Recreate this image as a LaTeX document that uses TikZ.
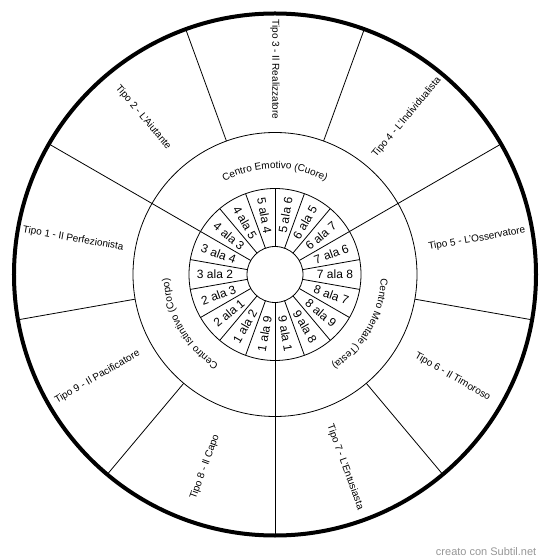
\documentclass[tikz,border=0pt]{standalone}
\usepackage{fontspec}
\setmainfont{Liberation Sans}
\usepackage{tikz}
\usetikzlibrary{decorations.text}
\definecolor{markgray}{RGB}{150, 150, 150}
\newcommand{\centrofont}{\fontsize{10}{12}\selectfont}

\begin{document}
\begin{tikzpicture}[x=1pt, y=1pt, line width=0.8pt]
  \useasboundingbox (-275,-284.5) rectangle (275,274.5);

  % Rings
  \draw[line width=4pt] (0,0) circle[radius=261pt];
  \draw (0,0) circle[radius=142pt];
  \draw (0,0) circle[radius=86pt];
  \draw (0,0) circle[radius=28pt];

  % Dividers: types, centres, wings
  \foreach \a in {30,70,...,350} \draw (\a:142pt) -- (\a:261pt);
  \foreach \a in {30,150,270} \draw (\a:86pt) -- (\a:142pt);
  \foreach \a in {10,30,...,350} \draw (\a:28pt) -- (\a:86pt);

  % Types
  \foreach \lab [count=\i, evaluate=\i as \a using 130-40*\i,
      evaluate=\a as \r using {ifthenelse(\a>-90 && \a<90, \a, \a+180)}] in
      {Tipo 3 - Il Realizzatore, Tipo 4 - L'Individualista, Tipo 5 - L'Osservatore,
       Tipo 6 - Il Timoroso, Tipo 7 - L'Entusiasta, Tipo 8 - Il Capo,
       Tipo 9 - Il Pacificatore, Tipo 1 - Il Perfezionista, Tipo 2 - L'Aiutante}
    \node[font=\fontsize{10}{12}\selectfont, rotate=\r] (tipo\i) at (\a:205pt) {\lab};

  % Wings
  \foreach \lab [count=\i, evaluate=\i as \a using 100-20*\i,
      evaluate=\a as \r using {ifthenelse(\a>-90, \a, \a+180)}] in
      {5 ala 6, 6 ala 5, 6 ala 7, 7 ala 6, 7 ala 8, 8 ala 7, 8 ala 9, 9 ala 8, 9 ala 1,
       1 ala 9, 1 ala 2, 2 ala 1, 2 ala 3, 3 ala 2, 3 ala 4, 4 ala 3, 4 ala 5, 5 ala 4}
    \node[font=\fontsize{12}{14}\selectfont, rotate=\r] (ala\i) at (\a:60pt) {\lab};

  % Centres
  \path[decorate, decoration={text along path, text align=center,
      text={|\centrofont|Centro Emotivo (Cuore)}}]
    (150:106pt) arc[start angle=150, end angle=30, radius=106pt];
  \path[decorate, decoration={text along path, text align=center,
      text={|\centrofont|Centro Mentale (Testa)}}]
    (30:106pt) arc[start angle=30, end angle=-90, radius=106pt];
  \path[decorate, decoration={text along path, text align=center,
      text={|\centrofont|Centro Istintivo (Corpo)}}]
    (270:106pt) arc[start angle=270, end angle=150, radius=106pt];

  \node[text=markgray, font=\fontsize{11}{13}\selectfont, anchor=east] (credit) at (265,-277) {creato con Subtil.net};
\end{tikzpicture}
\end{document}
